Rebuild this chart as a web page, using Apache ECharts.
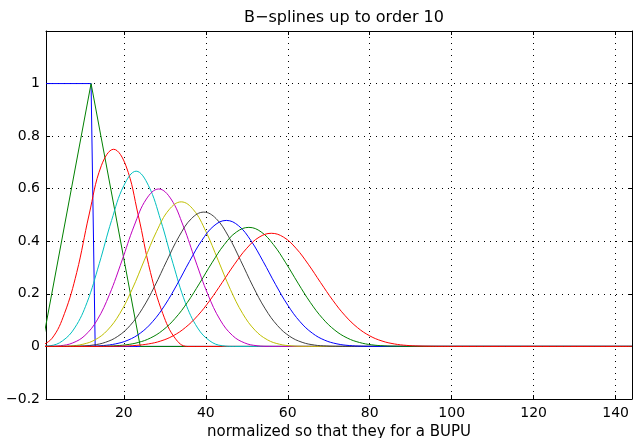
<!DOCTYPE html>
<html>
<head>
<meta charset="utf-8">
<script src="https://cdn.jsdelivr.net/npm/echarts@6/dist/echarts.min.js"></script>
<style>html,body{margin:0;padding:0;background:#fff}#c{width:637px;height:438px}</style>
</head>
<body>
<div id="c"></div>
<script>
// Data: B-spline basis functions of order 1..10 (sample index vs value)
const titleText = 'B\u2212splines up to order 10';
const xLabelText = 'normalized so that they for a BUPU';
const xTicks = [20, 40, 60, 80, 100, 120, 140];
const yTicks = [-0.2, 0, 0.2, 0.4, 0.6, 0.8, 1, 1.2];

const x1 = [1, 12, 13, 144];
const y1 = [1, 1, 0, 0];

const x2 = [0, 12, 24, 144];
const y2 = [0, 1, 0, 0];

const x3 = [-0.5, 2.5, 5.5, 8.5, 11.5, 14.5, 17.5, 20.5, 23.5, 26.5, 29.5, 32.5, 35.5, 144];
const y3 = [0, 0.0313, 0.125, 0.2813, 0.5, 0.6875, 0.75, 0.6875, 0.5, 0.2813, 0.125, 0.0313, 0, 0];

const x4 = [-1, 2, 5, 8, 11, 14, 17, 20, 23, 26, 29, 32, 35, 38, 41, 44, 47, 144];
const y4 = [0, 0.0026, 0.0208, 0.0703, 0.1667, 0.3151, 0.4792, 0.612, 0.6667, 0.612, 0.4792, 0.3151, 0.1667, 0.0703, 0.0208, 0.0026, 0, 0];

const x5 = [-1.5, 1.5, 4.5, 7.5, 10.5, 13.5, 16.5, 19.5, 22.5, 25.5, 28.5, 31.5, 34.5, 37.5, 40.5, 43.5, 46.5, 49.5, 52.5, 55.5, 58.5, 144];
const y5 = [0, 0.0002, 0.0026, 0.0132, 0.0417, 0.1009, 0.1979, 0.3249, 0.4583, 0.5609, 0.599, 0.5609, 0.4583, 0.3249, 0.1979, 0.1009, 0.0417, 0.0132, 0.0026, 0.0002, 0, 0];

const x6 = [-2, 1, 4, 7, 10, 13, 16, 19, 22, 25, 28, 31, 34, 37, 40, 43, 46, 49, 52, 55, 58, 61, 64, 67, 70, 144];
const y6 = [0, 0, 0.0003, 0.002, 0.0083, 0.0254, 0.0617, 0.1249, 0.2167, 0.3281, 0.438, 0.5196, 0.55, 0.5196, 0.438, 0.3281, 0.2167, 0.1249, 0.0617, 0.0254, 0.0083, 0.002, 0.0003, 0, 0, 0];

const x7 = [-2.5, 0.5, 3.5, 6.5, 9.5, 12.5, 15.5, 18.5, 21.5, 24.5, 27.5, 30.5, 33.5, 36.5, 39.5, 42.5, 45.5, 48.5, 51.5, 54.5, 57.5, 60.5, 63.5, 66.5, 69.5, 72.5, 75.5, 78.5, 81.5, 144];
const y7 = [0, 0, 0, 0.0002, 0.0014, 0.0053, 0.0157, 0.0382, 0.0792, 0.1431, 0.2288, 0.3266, 0.4194, 0.4865, 0.511, 0.4865, 0.4194, 0.3266, 0.2288, 0.1431, 0.0792, 0.0382, 0.0157, 0.0053, 0.0014, 0.0002, 0, 0, 0, 0];

const x8 = [0, 3, 6, 9, 12, 15, 18, 21, 24, 27, 30, 33, 36, 39, 42, 45, 48, 51, 54, 57, 60, 63, 66, 69, 72, 75, 78, 81, 84, 87, 90, 93, 144];
const y8 = [0, 0, 0, 0.0002, 0.0009, 0.0034, 0.0098, 0.0238, 0.0504, 0.094, 0.1569, 0.2363, 0.323, 0.4026, 0.459, 0.4794, 0.459, 0.4026, 0.323, 0.2363, 0.1569, 0.094, 0.0504, 0.0238, 0.0098, 0.0034, 0.0009, 0.0002, 0, 0, 0, 0, 0];

const x9 = [-0.5, 2.5, 5.5, 8.5, 11.5, 14.5, 17.5, 20.5, 23.5, 26.5, 29.5, 32.5, 35.5, 38.5, 41.5, 44.5, 47.5, 50.5, 53.5, 56.5, 59.5, 62.5, 65.5, 68.5, 71.5, 74.5, 77.5, 80.5, 83.5, 86.5, 89.5, 92.5, 144];
const y9 = [0, 0, 0, 0, 0.0001, 0.0006, 0.0022, 0.0061, 0.015, 0.0321, 0.0616, 0.1065, 0.1674, 0.2408, 0.3181, 0.3874, 0.4356, 0.4529, 0.4356, 0.3874, 0.3181, 0.2408, 0.1674, 0.1065, 0.0616, 0.0321, 0.015, 0.0061, 0.0022, 0.0006, 0.0001, 0, 0];

const x10 = [-1, 2, 5, 8, 11, 14, 17, 20, 23, 26, 29, 32, 35, 38, 41, 44, 47, 50, 53, 56, 59, 62, 65, 68, 71, 74, 77, 80, 83, 86, 89, 92, 95, 98, 101, 144];
const y10 = [0, 0, 0, 0, 0, 0.0001, 0.0004, 0.0014, 0.0039, 0.0095, 0.0206, 0.0403, 0.0717, 0.1168, 0.1753, 0.2432, 0.3127, 0.3736, 0.4155, 0.4304, 0.4155, 0.3736, 0.3127, 0.2432, 0.1753, 0.1168, 0.0717, 0.0403, 0.0206, 0.0095, 0.0039, 0.0014, 0.0004, 0.0001, 0, 0];

const xsAll = [x1, x2, x3, x4, x5, x6, x7, x8, x9, x10];
const ysAll = [y1, y2, y3, y4, y5, y6, y7, y8, y9, y10];
const colors = ['#0000ff', '#008000', '#ff0000', '#00bfbf', '#bf00bf', '#bfbf00', '#404040', '#0000ff', '#008000', '#ff0000'];

const FONT = 'DejaVu Sans';
const chart = echarts.init(document.getElementById('c'), null, {renderer: 'canvas'});

const series = xsAll.map((xs, i) => ({
  type: 'line',
  name: 'order ' + (i + 1),
  data: xs.map((x, j) => [x, ysAll[i][j]]),
  showSymbol: false,
  symbol: 'none',
  smooth: i >= 2 ? 0.4 : false,
  clip: true,
  lineStyle: {color: colors[i], width: 1},
  itemStyle: {color: colors[i]},
  emphasis: {disabled: true},
  z: 3 + i
}));

const fmtY = v => {
  if (Math.abs(v - 1.2) < 1e-9) return '';
  const s = String(Math.round(v * 10) / 10);
  return s.replace('-', '\u2212');
};

chart.setOption({
  animation: false,
  backgroundColor: '#fff',
  title: {
    text: titleText,
    left: 339, top: 5, textAlign: 'center',
    textStyle: {fontFamily: FONT, fontSize: 16, fontWeight: 'normal', color: '#000'}
  },
  grid: {left: 46, right: 5, top: 31, bottom: 39, containLabel: false, outerBoundsMode: 'none'},
  xAxis: [{
    type: 'value', min: 1, max: 144, position: 'bottom',
    name: xLabelText, nameLocation: 'middle', nameGap: 23,
    nameTextStyle: {fontFamily: FONT, fontSize: 15, color: '#000'},
    axisLine: {show: true, onZero: false, lineStyle: {color: '#000', width: 1}},
    axisTick: {show: true, inside: true, length: 4, customValues: xTicks, lineStyle: {color: '#000'}},
    axisLabel: {show: true, customValues: xTicks, margin: 7, fontFamily: FONT, fontSize: 14, color: '#000'},
    splitLine: {show: true, lineStyle: {color: '#000', width: 1, type: [1, 5]}}
  }, {
    type: 'value', min: 1, max: 144, position: 'top',
    axisLine: {show: true, onZero: false, lineStyle: {color: '#000', width: 1}},
    axisTick: {show: true, inside: true, length: 4, customValues: xTicks, lineStyle: {color: '#000'}},
    axisLabel: {show: false},
    splitLine: {show: false}
  }],
  yAxis: [{
    type: 'value', min: -0.2, max: 1.2, interval: 0.2, position: 'left',
    axisLine: {show: true, onZero: false, lineStyle: {color: '#000', width: 1}},
    axisTick: {show: true, inside: true, length: 4, lineStyle: {color: '#000'}},
    axisLabel: {show: true, margin: 6, formatter: fmtY, showMaxLabel: false, fontFamily: FONT, fontSize: 14, color: '#000'},
    splitLine: {show: true, lineStyle: {color: '#000', width: 1, type: [1, 5]}}
  }, {
    type: 'value', min: -0.2, max: 1.2, interval: 0.2, position: 'right',
    axisLine: {show: true, onZero: false, lineStyle: {color: '#000', width: 1}},
    axisTick: {show: true, inside: true, length: 4, lineStyle: {color: '#000'}},
    axisLabel: {show: false},
    splitLine: {show: false}
  }],
  series: series
});
</script>
</body>
</html>
